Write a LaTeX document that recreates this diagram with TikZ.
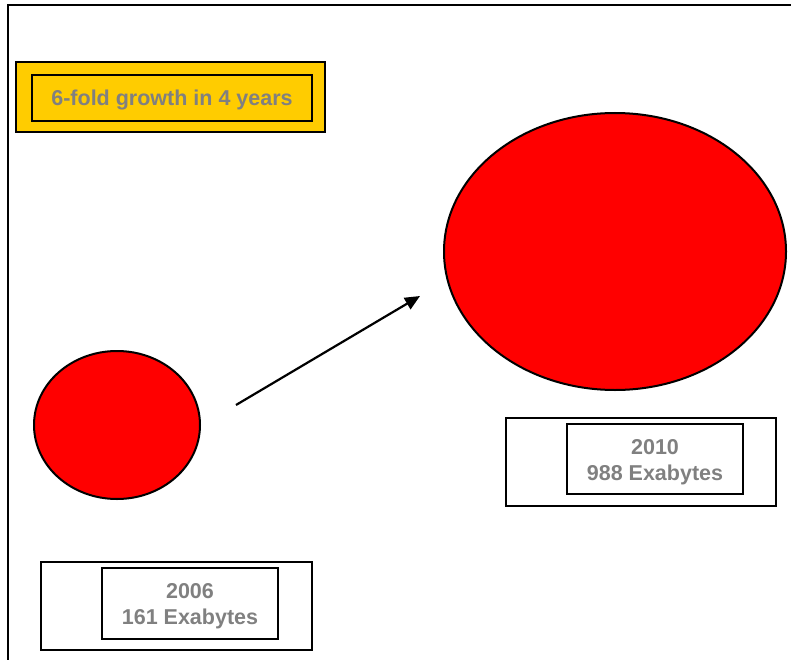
\documentclass[tikz,border=0pt]{standalone}
\usepackage{fontspec}
\setmainfont{Liberation Sans}
\usetikzlibrary{arrows.meta,shapes.geometric}
\definecolor{gold}{HTML}{FFCC00}
\definecolor{labelgray}{HTML}{808080}
\begin{document}
\begin{tikzpicture}[x=1pt,y=-1pt,
  blob/.style={draw=black,line width=2pt,fill=red},
  framebox/.style={draw=black,line width=2.2pt},
  lbl/.style={font=\fontsize{21.5}{25.5}\selectfont\bfseries,text=labelgray,align=center}]
\useasboundingbox (0,0) rectangle (791,660);
% page frame (top and left edges)
\draw[line width=2.2pt] (8,660) -- (8,5) -- (791,5);
% headline
\draw[framebox,fill=gold] (16,62) rectangle (325,132);
\draw[framebox] (32,75) rectangle (312,121);
\node[lbl] (head) at (172,99.5) {6-fold growth in 4 years};
% data volumes
\node[blob,ellipse,minimum width=166pt,minimum height=148pt,inner sep=0pt] (small) at (117,425) {};
\node[blob,ellipse,minimum width=342pt,minimum height=277pt,inner sep=0pt] (big) at (615,251.5) {};
\coordinate (from) at (236,405);
\coordinate (to) at (420,296);
\draw[line width=2.2pt,-{Triangle[length=15pt,width=13pt]}] (from) -- (to);
% captions
\draw[framebox] (41,562) rectangle (312,650);
\draw[framebox] (102,568) rectangle (278,639);
\node[lbl] (y2006) at (190,606) {2006\\161 Exabytes};
\draw[framebox] (506,418) rectangle (776,506);
\draw[framebox] (567,424) rectangle (743,494);
\node[lbl] (y2010) at (655,462) {2010\\988 Exabytes};
\end{tikzpicture}
\end{document}
